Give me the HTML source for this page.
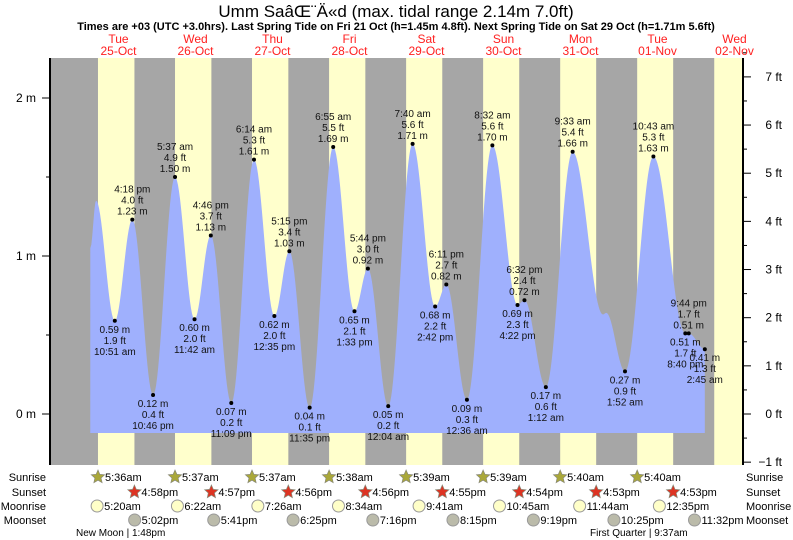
<!DOCTYPE html>
<html><head><meta charset="utf-8"><style>
html,body{margin:0;padding:0;background:#fff;}
svg{display:block;font-family:"Liberation Sans",sans-serif;}
</style></head><body>
<svg id="chart" width="793" height="540" viewBox="0 0 793 540">
<text x="396" y="17" text-anchor="middle" font-size="17" fill="#000">Umm SaâŒ¨Ä«d (max. tidal range 2.14m 7.0ft)</text>
<text x="396" y="30" text-anchor="middle" font-size="11" font-weight="bold" fill="#000">Times are +03 (UTC +3.0hrs). Last Spring Tide on Fri 21 Oct (h=1.45m 4.8ft). Next Spring Tide on Sat 29 Oct (h=1.71m 5.6ft)</text>
<g id="bands"></g>
<path id="tide" fill="#9fb0fd"></path>
<g id="axes"></g>
<g id="points"></g>
<g id="days"></g>
<g id="almanac"></g>
</svg>
<script>
const NS="http://www.w3.org/2000/svg";
const dayNames=["Tue","Wed","Thu","Fri","Sat","Sun","Mon","Tue","Wed"];
const dayDates=["25-Oct","26-Oct","27-Oct","28-Oct","29-Oct","30-Oct","31-Oct","01-Nov","02-Nov"];
const tideDays=[0,0,0,0,0,1,1,1,1,2,2,2,2,3,3,3,4,4,4,4,5,5,5,5,6,6,6,6,7,7,7,7,8];
const tideHours=[3.2,5.0,10.85,16.3,22.77,5.62,11.7,16.77,23.15,6.23,12.58,17.25,23.58,6.92,13.55,17.73,0.07,7.67,14.7,18.18,0.6,8.53,16.37,18.53,1.2,9.55,19.0,20.0,1.87,10.72,20.67,21.73,2.75];
const tideHeights=[1.05,1.35,0.59,1.23,0.12,1.50,0.60,1.13,0.07,1.61,0.62,1.03,0.04,1.69,0.65,0.92,0.05,1.71,0.68,0.82,0.09,1.70,0.69,0.72,0.17,1.66,0.63,0.64,0.27,1.63,0.51,0.51,0.41];
const tideTypes=["L","H","L","H","L","H","L","H","L","H","L","H","L","H","L","H","L","H","L","H","L","H","L","H","L","H","L","H","L","H","L","H","L"];
const tideLabels=["","","10:51 am","4:18 pm","10:46 pm","5:37 am","11:42 am","4:46 pm","11:09 pm","6:14 am","12:35 pm","5:15 pm","11:35 pm","6:55 am","1:33 pm","5:44 pm","12:04 am","7:40 am","2:42 pm","6:11 pm","12:36 am","8:32 am","4:22 pm","6:32 pm","1:12 am","9:33 am","","","1:52 am","10:43 am","8:40 pm","9:44 pm","2:45 am"];
const tideFt=["","","1.9","4.0","0.4","4.9","2.0","3.7","0.2","5.3","2.0","3.4","0.1","5.5","2.1","3.0","0.2","5.6","2.2","2.7","0.3","5.6","2.3","2.4","0.6","5.4","","","0.9","5.3","1.7","1.7","1.3"];
const sunriseTimes=["5:36am","5:37am","5:37am","5:38am","5:39am","5:39am","5:40am","5:40am","5:41am"];
const sunsetTimes=["4:58pm","4:57pm","4:56pm","4:56pm","4:55pm","4:54pm","4:53pm","4:53pm"];
const moonriseTimes=["5:20am","6:22am","7:26am","8:34am","9:41am","10:45am","11:44am","12:35pm"];
const moonsetTimes=["5:02pm","5:41pm","6:25pm","7:16pm","8:15pm","9:19pm","10:25pm","11:32pm"];
const mTicks=[0,1,2];
const ftTicks=[-1,0,1,2,3,4,5,6,7];

const X0=80, DAYW=77, Y0=414, PPM=158, LEFT=50, RIGHT=743, TOP=58, BOT=465, FILLBOT=433;
const xT=(d,h)=>X0+(d+h/24)*DAYW;
const yM=m=>Y0-m*PPM;
function parseT(s){const m=s.match(/(\d+):(\d+)(am|pm)/);let h=+m[1]%12;if(m[3]=="pm")h+=12;return h+ +m[2]/60;}
function el(tag,attrs,parent,text){const e=document.createElementNS(NS,tag);for(const k in attrs)e.setAttribute(k,attrs[k]);if(text!=null)e.textContent=text;parent.appendChild(e);return e;}

const bands=document.getElementById('bands');
let r=el('rect',{x:LEFT,y:TOP,width:RIGHT-LEFT,height:BOT-TOP,fill:'#a6a6a6'},bands);


for(let d=0;d<9;d++){
  const x1=xT(d,parseT(sunriseTimes[d]));
  const x2=d<sunsetTimes.length?xT(d,parseT(sunsetTimes[d])):RIGHT;
  const b=el('rect',{x:x1,y:TOP,width:Math.min(x2,RIGHT)-x1,height:BOT-TOP,fill:'#ffffcc'},bands);
  
  
}
let pts=[];
for(let i=0;i<tideHours.length-1;i++){
  const xa=xT(tideDays[i],tideHours[i]),xb=xT(tideDays[i+1],tideHours[i+1]);
  const ha=tideHeights[i],hb=tideHeights[i+1];
  for(let x=xa;x<xb;x+=1){const t=(x-xa)/(xb-xa);pts.push([x,yM(ha+(hb-ha)*(1-Math.cos(Math.PI*t))/2)]);}
}
const last=tideHeights.length-1;
const xl=xT(tideDays[last],tideHours[last]);
pts.push([xl,yM(tideHeights[last])]);
let d='M'+pts[0][0]+','+FILLBOT+' '+pts.map(p=>'L'+p[0].toFixed(1)+','+p[1].toFixed(1)).join(' ')+' L'+xl+','+FILLBOT+'Z';
document.getElementById('tide').setAttribute('d',d);

const ax=document.getElementById('axes');
el('line',{x1:LEFT,y1:TOP,x2:LEFT,y2:BOT,stroke:'#000','stroke-width':2},ax);
el('line',{x1:RIGHT,y1:TOP,x2:RIGHT,y2:BOT,stroke:'#000','stroke-width':2},ax);
mTicks.forEach(m=>{
  el('line',{x1:LEFT-8,y1:yM(m),x2:LEFT,y2:yM(m),stroke:'#000'},ax);
  const t=el('text',{x:LEFT-14,y:yM(m)+4,'text-anchor':'end','font-size':12},ax,m+' m');
  
  
});
for(let m=0.5;m<=2.3;m+=0.5){el('line',{x1:LEFT-4,y1:yM(m),x2:LEFT,y2:yM(m),stroke:'#000'},ax);}
ftTicks.forEach(f=>{
  const y=yM(f*0.3048);
  el('line',{x1:RIGHT,y1:y,x2:RIGHT+8,y2:y,stroke:'#000'},ax);
  el('line',{x1:RIGHT,y1:yM((f+0.5)*0.3048),x2:RIGHT+4,y2:yM((f+0.5)*0.3048),stroke:'#000'},ax);
  const t=el('text',{x:RIGHT+39,y:y+4,'text-anchor':'end','font-size':12},ax,(f<0?'\u2212'+(-f):f)+' ft');
  
  
});
const pg=document.getElementById('points');
for(let i=0;i<tideHours.length;i++){
  if(!tideLabels[i])continue;
  const x=xT(tideDays[i],tideHours[i]),y=yM(tideHeights[i]);
  const isHigh=tideTypes[i]=="H";
  const c=el('circle',{cx:x,cy:y,r:2,fill:'#000'},pg);
  
  
  const m=tideHeights[i].toFixed(2)+' m', f=tideFt[i]+' ft', t=tideLabels[i];
  const lines=isHigh?[[t,-27],[f,-16],[m,-5]]:[[m,12],[f,23],[t,34]];
  lines.forEach(([s,dy])=>{const tx=el('text',{x:x,y:y+dy,'text-anchor':'middle','font-size':10,fill:'#111'},pg,s);
    
    });
}
const dg=document.getElementById('days');
for(let i=0;i<9;i++){
  const x=xT(i,12);
  const a=el('text',{x:x,y:43,'text-anchor':'middle','font-size':12,fill:'#ff2020'},dg,dayNames[i]);
  
  
  const b=el('text',{x:x,y:55,'text-anchor':'middle','font-size':12,fill:'#ff2020'},dg,dayDates[i]);
  
  
}
const ag=document.getElementById('almanac');
const rows=[['Sunrise',481],['Sunset',496],['Moonrise',510],['Moonset',524]];
rows.forEach(([n,y])=>{
  const a=el('text',{x:46,y:y,'text-anchor':'end','font-size':11},ag,n);
  
  
  const b=el('text',{x:746,y:y,'font-size':11},ag,n);
  
  
});
function star(cx,cy,fill){let p=[];for(let k=0;k<10;k++){const rr=k%2?3.2:7,a=-Math.PI/2+k*Math.PI/5;p.push((cx+rr*Math.cos(a)).toFixed(1)+','+(cy+rr*Math.sin(a)).toFixed(1));}return el('polygon',{points:p.join(' '),fill:fill,stroke:'#887',"stroke-width":0.7},ag);}
function addRow(times,y,kind){
  times.forEach((s,i)=>{
    if(i>=8)return;
    const x=xT(i,parseT(s));
    let ic;
    if(kind=='sunrise')ic=star(x,y-4,'#aaa83a');
    else if(kind=='sunset')ic=star(x,y-4,'#dd3322');
    else ic=el('circle',{cx:x,cy:y-4,r:6,fill:kind=='moonrise'?'#ffffc8':'#bbbbaa',stroke:'#999'},ag);
    
    
    const t=el('text',{x:x+7,y:y,'font-size':11},ag,s);
    
    
  });
}
addRow(sunriseTimes,481,'sunrise');
addRow(sunsetTimes,496,'sunset');
addRow(moonriseTimes,510,'moonrise');
addRow(moonsetTimes,524,'moonset');
let nm=el('text',{x:76,y:536,'font-size':10},ag,'New Moon | 1:48pm');


let fq=el('text',{x:590,y:536,'font-size':10},ag,'First Quarter | 9:37am');


</script>
</body></html>
